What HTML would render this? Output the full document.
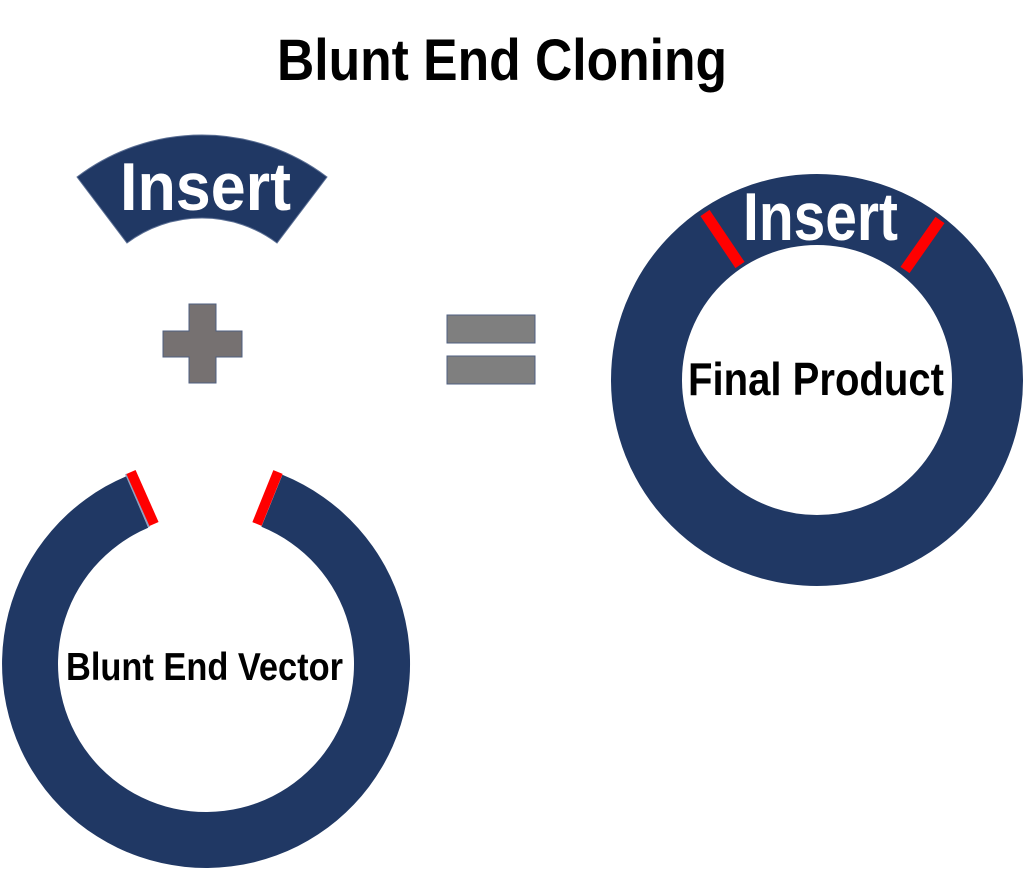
<!DOCTYPE html>
<html><head><meta charset="utf-8"><style>html,body{margin:0;padding:0;background:#fff}svg{display:block}</style></head>
<body>
<svg width="1024" height="871" viewBox="0 0 1024 871" xmlns="http://www.w3.org/2000/svg" font-family="'Liberation Sans', sans-serif" font-weight="bold">
<text x="277" y="80" font-size="58" textLength="450" lengthAdjust="spacingAndGlyphs" fill="#000">Blunt End Cloning</text>
<path d="M77,177 A207,207 0 0 1 327,177 L277,243 A125,125 0 0 0 127,243 Z" fill="#203864" stroke="#5b6f94" stroke-width="1"/>
<text x="120" y="210" font-size="68" textLength="171" lengthAdjust="spacingAndGlyphs" fill="#fff">Insert</text>
<path d="M189,304 H216 V331 H242 V357 H216 V383 H189 V357 H163 V331 H189 Z" fill="#767171" stroke="#4f5f80" stroke-width="1"/>
<rect x="447" y="315" width="88" height="28" fill="#7f7f7f" stroke="#4f5f80" stroke-width="1"/>
<rect x="447" y="356" width="88" height="28" fill="#7f7f7f" stroke="#4f5f80" stroke-width="1"/>
<circle cx="817" cy="380" r="170.5" fill="none" stroke="#203864" stroke-width="71"/>
<line x1="705" y1="213" x2="740" y2="265" stroke="#ff0000" stroke-width="11"/>
<line x1="940" y1="220" x2="905" y2="270" stroke="#ff0000" stroke-width="11"/>
<text x="743" y="240" font-size="68" textLength="155" lengthAdjust="spacingAndGlyphs" fill="#fff">Insert</text>
<text x="688" y="395" font-size="46" textLength="256" lengthAdjust="spacingAndGlyphs" fill="#000">Final Product</text>
<g transform="translate(206,664)">
<path d="M76.4,-189.2 A204,204 0 1 1 -79.7,-187.8 L-57.8,-136.2 A148,148 0 1 0 55.4,-137.2 Z" fill="#203864"/>
<line x1="-80" y1="-190" x2="-57" y2="-137" stroke="#8fa0c0" stroke-width="2"/>
<line x1="-75" y1="-192" x2="-52" y2="-140" stroke="#ff0000" stroke-width="10"/>
<line x1="72" y1="-192" x2="51" y2="-140" stroke="#ff0000" stroke-width="10"/>
</g>
<text x="66" y="680" font-size="39" textLength="277" lengthAdjust="spacingAndGlyphs" fill="#000">Blunt End Vector</text>
</svg>
</body></html>
